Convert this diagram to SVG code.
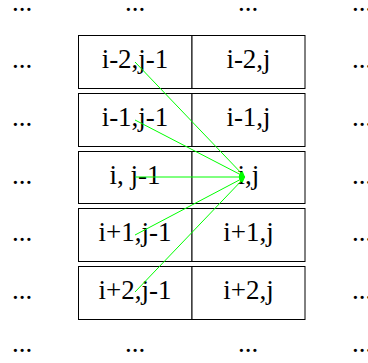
<svg xmlns="http://www.w3.org/2000/svg" width="368" height="363" viewBox="0 0 368 363">
<defs>
<style>
.cell{fill:#fff;stroke:#000;stroke-width:1}
.t{font-family:"Liberation Serif","Times New Roman",serif;font-size:27px;fill:#000;text-anchor:middle}
.e{stroke:#00ff00;stroke-width:1;fill:none;marker-end:url(#ah)}
</style>
<marker id="ah" viewBox="0 0 10 10" refX="10" refY="5" markerWidth="6" markerHeight="6" orient="auto" markerUnits="userSpaceOnUse">
<path d="M0,1 L10,5 L0,9 z" fill="#00ff00"/>
</marker>
</defs>
<rect width="368" height="363" fill="#fff"/>
<g id="dots">
<text class="t" x="22" y="11">...</text><text class="t" x="135" y="11">...</text><text class="t" x="248" y="11">...</text><text class="t" x="362" y="11">...</text>
<text class="t" x="22" y="68">...</text><text class="t" x="362" y="68">...</text>
<text class="t" x="22" y="126">...</text><text class="t" x="362" y="126">...</text>
<text class="t" x="22" y="184">...</text><text class="t" x="362" y="184">...</text>
<text class="t" x="22" y="241">...</text><text class="t" x="362" y="241">...</text>
<text class="t" x="22" y="299">...</text><text class="t" x="362" y="299">...</text>
<text class="t" x="22" y="352">...</text><text class="t" x="135" y="352">...</text><text class="t" x="248" y="352">...</text><text class="t" x="362" y="352">...</text>
</g>
<g id="c-im2-jm1"><rect class="cell" x="78.5" y="35.5" width="113.5" height="53"/><text class="t" x="135" y="68">i-2,j-1</text></g>
<g id="c-im2-j"><rect class="cell" x="192" y="35.5" width="113" height="53"/><text class="t" x="248.5" y="68">i-2,j</text></g>
<g id="c-im1-jm1"><rect class="cell" x="78.5" y="93.5" width="113.5" height="53"/><text class="t" x="135" y="126">i-1,j-1</text></g>
<g id="c-im1-j"><rect class="cell" x="192" y="93.5" width="113" height="53"/><text class="t" x="248.5" y="126">i-1,j</text></g>
<g id="c-i-jm1"><rect class="cell" x="78.5" y="151.5" width="113.5" height="52"/><text class="t" x="135" y="184">i, j-1</text></g>
<g id="c-i-j"><rect class="cell" x="192" y="151.5" width="113" height="52"/><text class="t" x="248.5" y="184">i,j</text></g>
<g id="c-ip1-jm1"><rect class="cell" x="78.5" y="208.5" width="113.5" height="53"/><text class="t" x="135" y="241">i+1,j-1</text></g>
<g id="c-ip1-j"><rect class="cell" x="192" y="208.5" width="113" height="53"/><text class="t" x="248.5" y="241">i+1,j</text></g>
<g id="c-ip2-jm1"><rect class="cell" x="78.5" y="266.5" width="113.5" height="53"/><text class="t" x="135" y="299">i+2,j-1</text></g>
<g id="c-ip2-j"><rect class="cell" x="192" y="266.5" width="113" height="53"/><text class="t" x="248.5" y="299">i+2,j</text></g>
<g id="connectors">
<line class="e" x1="135" y1="62" x2="245" y2="177"/>
<line class="e" x1="135" y1="120" x2="245" y2="177"/>
<line class="e" x1="135" y1="177" x2="245" y2="177"/>
<line class="e" x1="135" y1="235" x2="245" y2="177"/>
<line class="e" x1="135" y1="292" x2="245" y2="177"/>
</g>
</svg>
